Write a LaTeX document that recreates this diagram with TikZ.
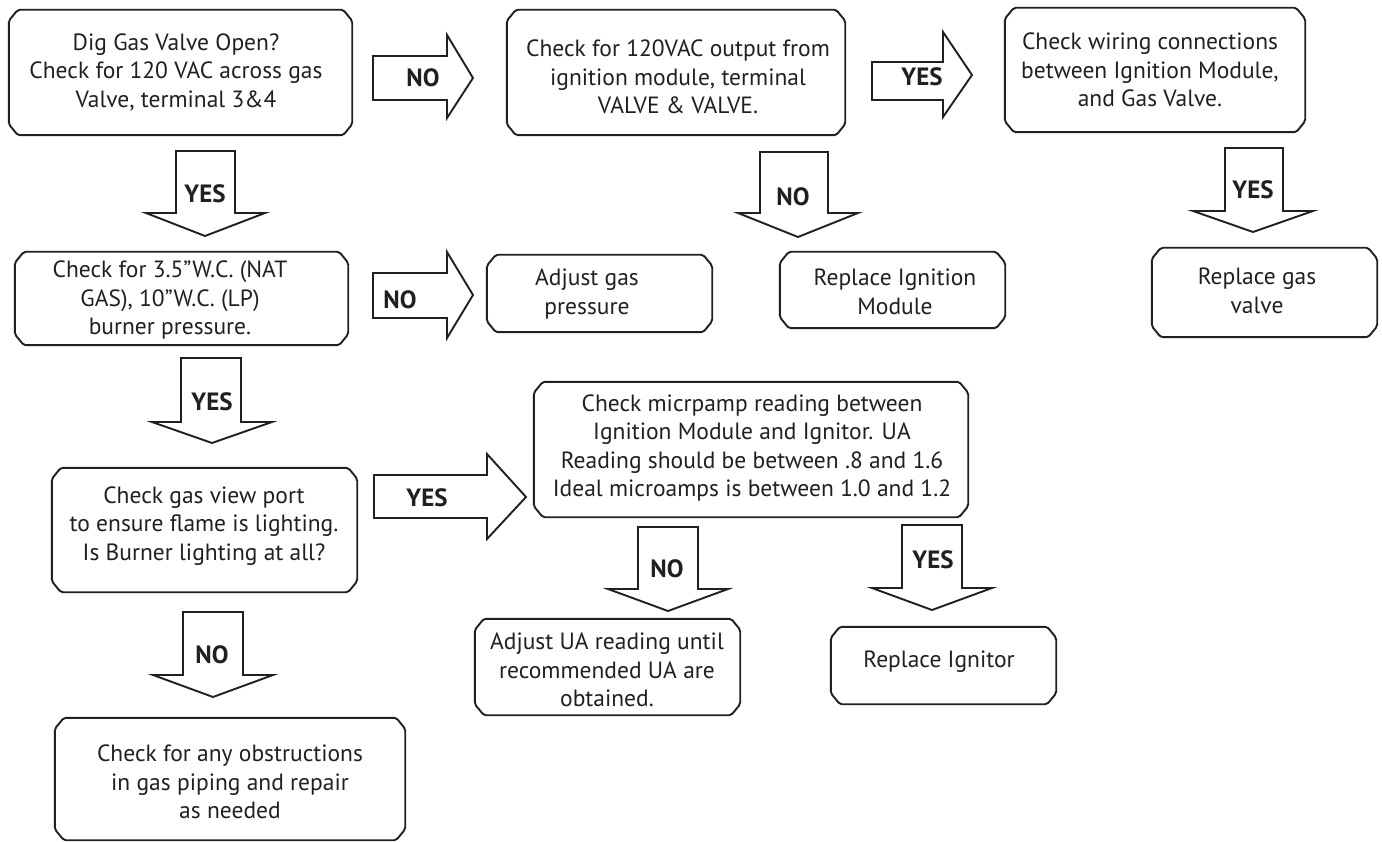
\documentclass[tikz,border=0pt]{standalone}
\usepackage{fontspec}
\setmainfont{PT Sans}
\usetikzlibrary{fit}
\definecolor{ink}{RGB}{35,31,32}
\tikzset{
  boxline/.style={draw=ink, line width=1.9pt, line join=round, rounded corners=2pt},
  arrowline/.style={draw=ink, line width=1.9pt, line join=miter},
  boxn/.style={inner sep=0pt, draw=none},
  txt/.style={text=ink, align=center, font=\fontsize{23.5}{28.5}\selectfont, inner sep=0pt},
  lbl/.style={text=ink, font=\fontsize{25}{27}\selectfont\bfseries, inner sep=0pt}
}
% box: name, x1, y1, x2, y2
\newcommand\mkbox[5]{%
  \coordinate (#1-a) at (#2,#3);
  \coordinate (#1-b) at (#4,#5);
  \node[boxn, fit=(#1-a)(#1-b)] (#1) {};
  \draw[boxline] ([xshift=9pt]#1.north west) -- ([xshift=-9pt]#1.north east)
    -- ([yshift=-11pt]#1.north east) -- ([yshift=11pt]#1.south east)
    -- ([xshift=-9pt]#1.south east) -- ([xshift=9pt]#1.south west)
    -- ([yshift=11pt]#1.south west) -- ([yshift=-11pt]#1.north west) -- cycle;
}
% right block arrow: x0 x1 xt ys1 ys2 yh1 yh2 yt
\newcommand\rarrow[8]{%
  \draw[arrowline] (#1,#4) -- (#2,#4) -- (#2,#6) -- (#3,#8) -- (#2,#7) -- (#2,#5) -- (#1,#5) -- cycle;
}
% down block arrow: y0 y1 yt xs1 xs2 xh1 xh2 xt
\newcommand\darrow[8]{%
  \draw[arrowline] (#4,#1) -- (#4,#2) -- (#6,#2) -- (#8,#3) -- (#7,#2) -- (#5,#2) -- (#5,#1) -- cycle;
}
\begin{document}
\begin{tikzpicture}[x=1pt,y=-1pt]
\useasboundingbox (0,0) rectangle (1382,842);
\fill[white] (0,0) rectangle (1382,842);

% boxes
\mkbox{b1}{9}{10}{352}{135}
\mkbox{b2}{507}{10}{845}{135}
\mkbox{b4}{1005}{8}{1305}{132}
\mkbox{b3}{15}{252}{348}{345}
\mkbox{badj}{487}{255}{712}{332}
\mkbox{bri}{780}{252}{1005}{328}
\mkbox{bgv}{1152}{248}{1377}{337}
\mkbox{b5}{52}{468}{357}{592}
\mkbox{bmic}{534}{382}{968}{517}
\mkbox{bua}{475}{619}{740}{715}
\mkbox{bign}{831}{627}{1056}{704}
\mkbox{bobs}{55}{718}{405}{840}

% texts
\node[txt] (t1) at (176,72) {Dig Gas Valve Open?\\Check for 120 VAC across gas\\Valve, terminal 3\&4};
\node[txt] (t2) at (678,77) {Check for 120VAC output from\\ignition module, terminal\\VALVE \& VALVE.};
\node[txt] (t4) at (1150,70) {Check wiring connections\\between Ignition Module,\\and Gas Valve.};
\node[txt] (t3) at (170,300) {Check for 3.5”W.C. (NAT\\GAS), 10”W.C. (LP)\\burner pressure.};
\node[txt] (tadj) at (587,294) {Adjust gas\\pressure};
\node[txt] (tri) at (895,292) {Replace Ignition\\Module};
\node[txt] (tgv) at (1257,291) {Replace gas\\valve};
\node[txt] (t5) at (204,526) {Check gas view port\\to ensure flame is lighting.\\Is Burner lighting at all?};
\node[txt] (tmic) at (752,448) {Check micrpamp reading between\\Ignition Module and Ignitor. UA\\Reading should be between .8 and 1.6\\Ideal microamps is between 1.0 and 1.2};
\node[txt] (tua) at (607,670) {Adjust UA reading until\\recommended UA are\\obtained.};
\node[txt] (tign) at (939,662) {Replace Ignitor};
\node[txt] (tobs) at (230,782) {Check for any obstructions\\in gas piping and repair\\as needed};

% block arrows
\rarrow{373}{447}{473}{56}{100}{35}{118}{78}
\rarrow{872}{943}{972}{62}{100}{32}{117}{75}
\darrow{151}{213}{236}{176}{235}{146}{265}{205}
\darrow{152}{213}{237}{760}{828}{738}{858}{798}
\darrow{148}{211}{232}{1225}{1283}{1193}{1313}{1253}
\rarrow{373}{447}{473}{273}{318}{252}{338}{295}
\darrow{358}{422}{443}{181}{241}{152}{272}{212}
\rarrow{374}{487}{526}{475}{518}{454}{539}{497}
\darrow{527}{589}{611}{638}{698}{608}{728}{668}
\darrow{525}{588}{610}{902}{962}{872}{992}{932}
\darrow{612}{675}{697}{183}{243}{153}{273}{213}

% arrow labels
\node[lbl] (l1) at (423,78) {NO};
\node[lbl] (l2) at (922,77) {YES};
\node[lbl] (l3) at (205,194) {YES};
\node[lbl] (l4) at (793,197) {NO};
\node[lbl] (l5) at (1253,190) {YES};
\node[lbl] (l6) at (400,300) {NO};
\node[lbl] (l7) at (212,402) {YES};
\node[lbl] (l8) at (427,498) {YES};
\node[lbl] (l9) at (667,569) {NO};
\node[lbl] (l10) at (933,560) {YES};
\node[lbl] (l11) at (212,655) {NO};
\end{tikzpicture}
\end{document}
